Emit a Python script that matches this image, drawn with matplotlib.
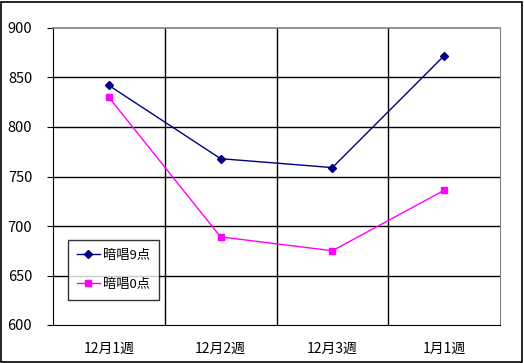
import matplotlib
matplotlib.use("Agg")
import matplotlib.pyplot as plt
from matplotlib.patches import Rectangle

plt.rcParams['font.family'] = ['Noto Sans CJK JP', 'DejaVu Sans']

weeks = ["12月1週", "12月2週", "12月3週", "1月1週"]
score9 = [842, 768, 759, 872]
score0 = [830, 689, 675, 736]
yticks = [600, 650, 700, 750, 800, 850, 900]

fig = plt.figure(figsize=(5.24, 3.63), dpi=100)
ax = fig.add_axes([53 / 524, 38 / 363, 447 / 524, 297 / 363])

x = range(len(weeks))
ax.plot(x, score9, color="#000080", lw=1, marker="D", ms=4, label="暗唱9点")
ax.plot(x, score0, color="#FF00FF", lw=1, marker="s", ms=5, label="暗唱0点")

ax.set_xlim(-0.5, len(weeks) - 0.5)
ax.set_ylim(600, 900)
ax.set_yticks(yticks)
ax.set_xticks(list(x))
ax.set_xticklabels(weeks)
ax.tick_params(axis="x", length=0, pad=12, labelsize=10)
ax.tick_params(axis="y", length=4, direction="out", pad=11, labelsize=10.5)

# grid: black lines between categories and at each y tick
for yv in yticks[1:-1]:
    ax.axhline(yv, color="black", lw=1, zorder=0)
for xv in [0.5, 1.5, 2.5]:
    ax.axvline(xv, color="black", lw=1, zorder=0)

ax.spines["left"].set_color("black")
ax.spines["bottom"].set_color("black")
ax.spines["top"].set_color("#808080")
ax.spines["right"].set_color("#808080")
ax.spines["top"].set_linewidth(1.2)

leg = ax.legend(loc="lower left", bbox_to_anchor=(15 / 447, 25 / 297),
                borderaxespad=0, frameon=True, fancybox=False,
                edgecolor="black", fontsize=9.5, handlelength=1.7,
                borderpad=0.7, labelspacing=1.2, handletextpad=0.25)
leg.get_frame().set_linewidth(1)

# outer border round the whole chart
fig.patches.append(Rectangle((1 / 524, 1 / 363), 521 / 524, 360 / 363,
                             transform=fig.transFigure, fill=False,
                             edgecolor="black", lw=1.2))

fig.savefig("out.png", dpi=100)
